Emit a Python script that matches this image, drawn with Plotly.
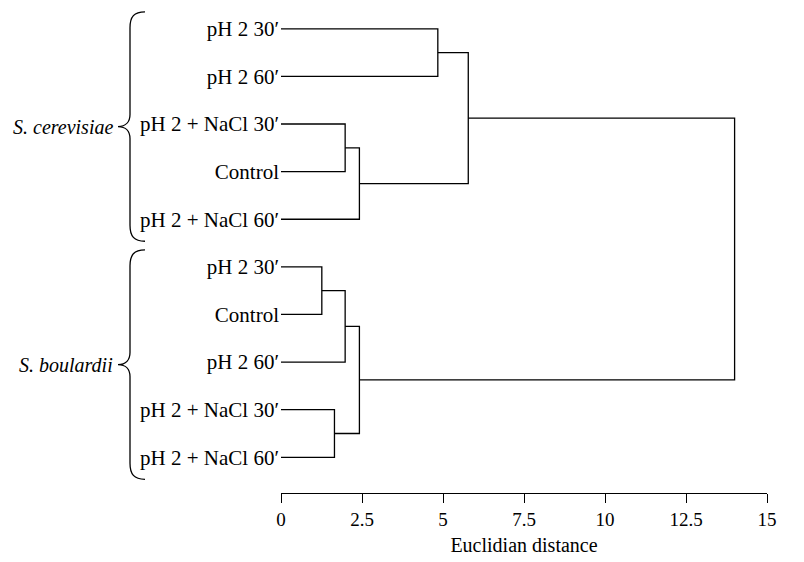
import plotly.graph_objects as go

# ---------------- data ----------------
leaf_labels = [
    "pH 2 30′", "pH 2 60′", "pH 2 + NaCl 30′", "Control", "pH 2 + NaCl 60′",
    "pH 2 30′", "Control", "pH 2 60′", "pH 2 + NaCl 30′", "pH 2 + NaCl 60′",
]
# merges: (child_a, child_b, distance); new nodes numbered from len(leaf_labels)
merge_a = [0, 2, 11, 10, 5, 14, 8, 15, 13]
merge_b = [1, 3, 4, 12, 6, 7, 9, 16, 17]
merge_dist = [4.84, 1.98, 2.42, 5.78, 1.26, 1.98, 1.65, 2.42, 14.0]
species = ["S. cerevisiae", "S. boulardii"]
species_leaves = [[0, 4], [5, 9]]
x_ticks = [0, 2.5, 5, 7.5, 10, 12.5, 15]
x_ticktext = ["0", "2.5", "5", "7.5", "10", "12.5", "15"]

# ---------------- dendrogram geometry ----------------
n = len(leaf_labels)
node_x = {i: 0.0 for i in range(n)}
node_y = {i: float(i) for i in range(n)}
xs, ys = [], []
for k, (a, b, d) in enumerate(zip(merge_a, merge_b, merge_dist)):
    nid = n + k
    node_x[nid] = d
    node_y[nid] = (node_y[a] + node_y[b]) / 2
    xs += [node_x[a], d, d, node_x[b], None]
    ys += [node_y[a], node_y[a], node_y[b], node_y[b], None]

SERIF = "Liberation Serif"
fig = go.Figure()
fig.add_trace(go.Scatter(x=xs, y=ys, mode="lines",
                         line=dict(color="black", width=1.3),
                         hoverinfo="skip", showlegend=False, cliponaxis=False))

# ---------------- layout ----------------
L, R, T, B = 281, 37, 5, 69
W, H = 804, 562
pw, ph = W - L - R, H - T - B


def p2x(px):
    return (px - L) / pw


def p2y(py):
    return (H - B - py) / ph


shapes = []
annotations = []
for name, (i0, i1) in zip(species, species_leaves):
    unit = ph / 10.25
    top = T + (i0 + 0.5) * unit - 17
    bot = T + (i1 + 0.5) * unit + 22
    mid = (top + bot) / 2
    xe, xv, xt = 145, 130, 118
    pts = [
        ("M", [(xe, top)]),
        ("C", [(xv + 4, top), (xv, top + 5), (xv, top + 16)]),
        ("L", [(xv, mid - 12)]),
        ("C", [(xv, mid - 5), (xv - 4, mid), (xt, mid)]),
        ("C", [(xv - 4, mid), (xv, mid + 5), (xv, mid + 12)]),
        ("L", [(xv, bot - 16)]),
        ("C", [(xv, bot - 5), (xv + 4, bot), (xe, bot)]),
    ]
    path = " ".join(cmd + " " + " ".join(f"{p2x(a):.5f},{p2y(b):.5f}" for a, b in pp)
                    for cmd, pp in pts)
    shapes.append(dict(type="path", path=path, xref="paper", yref="paper",
                       line=dict(color="black", width=1.3)))
    annotations.append(dict(text=name, x=p2x(115), y=p2y(mid), xref="paper", yref="paper",
                            xanchor="right", yanchor="middle", showarrow=False,
                            font=dict(family=SERIF, size=20, color="black", style="italic")))

fig.update_layout(
    width=W, height=H,
    margin=dict(l=L, r=R, t=T, b=B),
    paper_bgcolor="white", plot_bgcolor="white",
    font=dict(family=SERIF, size=19, color="black"),
    shapes=shapes, annotations=annotations,
    xaxis=dict(range=[0, 15], tickvals=x_ticks, ticktext=x_ticktext,
               showline=True, linecolor="black", linewidth=1.3,
               ticks="outside", ticklen=9, tickwidth=1.3, tickcolor="black",
               showgrid=False, zeroline=False,
               tickfont=dict(family=SERIF, size=19, color="black"),
               title=dict(text="Euclidian distance", standoff=9,
                          font=dict(family=SERIF, size=20, color="black"))),
    yaxis=dict(range=[9.75, -0.5], tickvals=list(range(n)), ticktext=leaf_labels,
               showline=False, ticks="", showgrid=False, zeroline=False,
               ticklabelstandoff=1,
               tickfont=dict(family=SERIF, size=21, color="black")),
)

fig.write_html("out.html")
